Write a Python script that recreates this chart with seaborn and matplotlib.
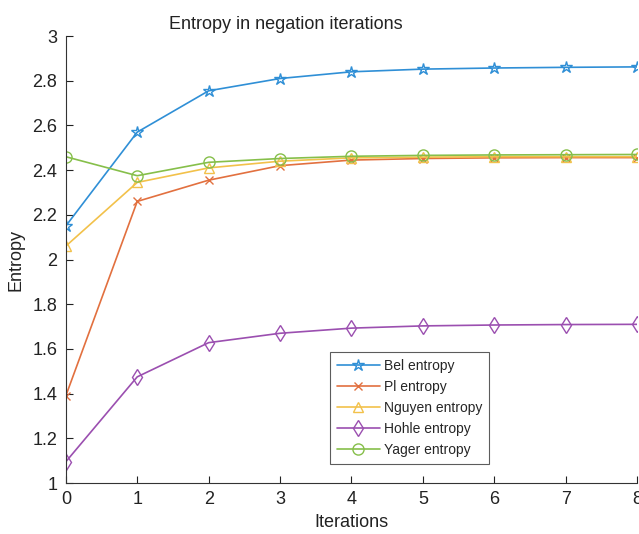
import matplotlib
matplotlib.use("Agg")
import matplotlib.pyplot as plt
import seaborn as sns
import pandas as pd

iterations = [0, 1, 2, 3, 4, 5, 6, 7, 8]
bel = [2.15, 2.57, 2.755, 2.81, 2.84, 2.852, 2.857, 2.86, 2.862]
pl = [1.39, 2.26, 2.355, 2.42, 2.445, 2.452, 2.455, 2.456, 2.456]
nguyen = [2.06, 2.345, 2.41, 2.44, 2.455, 2.458, 2.46, 2.46, 2.46]
hohle = [1.095, 1.475, 1.628, 1.67, 1.693, 1.703, 1.707, 1.709, 1.71]
yager = [2.46, 2.375, 2.435, 2.452, 2.462, 2.466, 2.468, 2.469, 2.47]

series_names = ["Bel entropy", "Pl entropy", "Nguyen entropy", "Hohle entropy", "Yager entropy"]
series_vals = [bel, pl, nguyen, hohle, yager]
colors = ["#2f8fd6", "#e2703f", "#f2c14a", "#9b4fb0", "#86bf4a"]
markers = ["*", "x", "^", "d", "o"]
msizes = [9, 6, 7.5, 8.5, 8]

sns.set_style("ticks")
plt.rcParams['font.family'] = ['Liberation Sans', 'DejaVu Sans']

fig = plt.figure(figsize=(6.39, 5.34), dpi=100)
ax = fig.add_axes([0.103, 0.0955, 0.894, 0.837])

for name, vals, c, m, ms in zip(series_names, series_vals, colors, markers, msizes):
    df = pd.DataFrame({"Iterations": iterations, "Entropy": vals})
    sns.lineplot(data=df, x="Iterations", y="Entropy", ax=ax, color=c, marker=m,
                 markersize=ms, markerfacecolor="none", markeredgecolor=c,
                 markeredgewidth=1.0, linewidth=1.2, label=name)

ax.set_xlim(0, 8)
ax.set_ylim(1, 3)
ax.set_xticks(range(0, 9))
ax.set_yticks([1, 1.2, 1.4, 1.6, 1.8, 2, 2.2, 2.4, 2.6, 2.8, 3])
ax.set_yticklabels(["1", "1.2", "1.4", "1.6", "1.8", "2", "2.2", "2.4", "2.6", "2.8", "3"])
ax.tick_params(direction="in", labelsize=13, length=5, width=0.8, colors="#222222", pad=6)
for s in ["top", "right"]:
    ax.spines[s].set_visible(False)
for s in ["left", "bottom"]:
    ax.spines[s].set_color("#333333")
    ax.spines[s].set_linewidth(0.8)
ax.set_xlabel("Iterations", fontsize=13, color="#222222", labelpad=4)
ax.set_ylabel("Entropy", fontsize=13, color="#222222", labelpad=6)
ax.set_title("Entropy in negation iterations", fontsize=13, color="#222222", x=0.385, pad=5)

leg = ax.legend(loc="lower left", bbox_to_anchor=(0.462, 0.0425),
                fontsize=10, frameon=True, fancybox=False, edgecolor="#333333",
                borderpad=0.5, labelspacing=0.5, handlelength=3.1, handletextpad=0.3,
                borderaxespad=0)
leg.get_frame().set_linewidth(0.8)

fig.savefig("out.png", dpi=100)
